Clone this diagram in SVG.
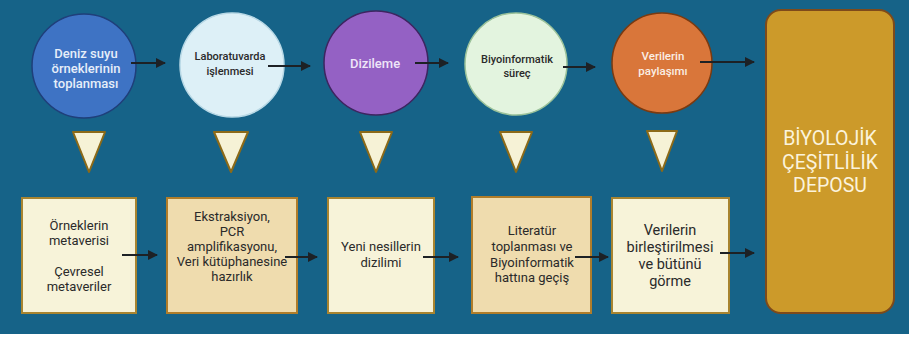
<svg xmlns="http://www.w3.org/2000/svg" width="909" height="339" viewBox="0 0 909 339">
<defs>
<marker id="ah" viewBox="0 0 10 10" refX="9" refY="5" markerWidth="5" markerHeight="5" orient="auto" markerUnits="strokeWidth">
<path d="M0,0 L10,5 L0,10 z" fill="#1d2125"/>
</marker>
<style>
text{font-family:Roboto,"Liberation Sans",sans-serif;text-anchor:middle}
.conn line{stroke:#1d2125;stroke-width:2;marker-end:url(#ah)}
.tri{fill:#f6f2d6;stroke:#8c6a18;stroke-width:2;stroke-linejoin:round}
.cream{fill:#f7f3d9;stroke:#a88430;stroke-width:2}
.tan{fill:#efdcae;stroke:#b07d2a;stroke-width:2}
.bt{font-size:13px;fill:#2a2a2a}
.bl{font-size:14.5px;fill:#2a2a2a}
.ct{font-size:13px;font-weight:500}
.cs{font-size:11px;font-weight:500;fill:#2a2a2a}
</style>
</defs>
<rect x="0" y="0" width="909" height="339" fill="#ffffff"/>
<rect x="0" y="0" width="909" height="334" fill="#166388"/>

<g id="c1">
<circle cx="84" cy="66" r="52" fill="#3e73c4" stroke="#1f3f7a" stroke-width="1.5"/>
<text class="ct" fill="#e6eef9"><tspan x="86" y="58">Deniz suyu</tspan><tspan x="86" y="73">örneklerinin</tspan><tspan x="86" y="88">toplanması</tspan></text>
</g>
<g id="c2">
<circle cx="232" cy="65" r="52" fill="#ddf0f7" stroke="#b9d9e6" stroke-width="1.5"/>
<text class="cs"><tspan x="230" y="60">Laboratuvarda</tspan><tspan x="230" y="75">işlenmesi</tspan></text>
</g>
<g id="c3">
<circle cx="376" cy="63" r="52" fill="#9461c4" stroke="#3d2560" stroke-width="1.5"/>
<text class="ct" fill="#efe6f8" x="375" y="68">Dizileme</text>
</g>
<g id="c4">
<circle cx="516" cy="64" r="51" fill="#e3f4df" stroke="#9bc29a" stroke-width="1.5"/>
<text class="cs"><tspan x="517" y="63">Biyoinformatik</tspan><tspan x="517" y="77">süreç</tspan></text>
</g>
<g id="c5">
<circle cx="662" cy="63" r="50" fill="#d9763a" stroke="#7a3a10" stroke-width="1.5"/>
<text font-size="11.5" font-weight="500" fill="#fbeee4"><tspan x="663" y="60">Verilerin</tspan><tspan x="663" y="75">paylaşımı</tspan></text>
</g>

<g id="depo">
<rect x="766" y="10" width="128" height="303" rx="15" fill="#cc9a2a" stroke="#7e4a1a" stroke-width="2"/>
<text font-size="19.5" fill="#fbf3dc"><tspan x="830" y="145">BİYOLOJİK</tspan><tspan x="830" y="169">ÇEŞİTLİLİK</tspan><tspan x="830" y="192">DEPOSU</tspan></text>
</g>

<g id="t1"><polygon class="tri" points="73,132 105,132 89,172"/></g>
<g id="t2"><polygon class="tri" points="214,132 248,132 231,172"/></g>
<g id="t3"><polygon class="tri" points="360,132 392,132 376,172"/></g>
<g id="t4"><polygon class="tri" points="500,132 532,132 516,172"/></g>
<g id="t5"><polygon class="tri" points="647,131 677,131 662,171"/></g>

<g id="b1">
<rect class="cream" x="22" y="198" width="114" height="115"/>
<text class="bt"><tspan x="79" y="230">Örneklerin</tspan><tspan x="79" y="245">metaverisi</tspan><tspan x="79" y="276">Çevresel</tspan><tspan x="79" y="291">metaveriler</tspan></text>
</g>
<g id="b2">
<rect class="tan" x="167" y="198" width="130" height="115"/>
<text class="bt"><tspan x="232" y="221">Ekstraksiyon,</tspan><tspan x="232" y="236">PCR</tspan><tspan x="232" y="251">amplifikasyonu,</tspan><tspan x="232" y="266">Veri kütüphanesine</tspan><tspan x="232" y="281">hazırlık</tspan></text>
</g>
<g id="b3">
<rect class="cream" x="328" y="198" width="106" height="115"/>
<text class="bt"><tspan x="381" y="251">Yeni nesillerin</tspan><tspan x="381" y="267">dizilimi</tspan></text>
</g>
<g id="b4">
<rect class="tan" x="472" y="197" width="119" height="116"/>
<text class="bt"><tspan x="532" y="235">Literatür</tspan><tspan x="532" y="251">toplanması ve</tspan><tspan x="532" y="267">Biyoinformatik</tspan><tspan x="532" y="282">hattına geçiş</tspan></text>
</g>
<g id="b5">
<rect class="cream" x="612" y="198" width="117" height="115"/>
<text class="bl"><tspan x="670" y="235">Verilerin</tspan><tspan x="670" y="252">birleştirilmesi</tspan><tspan x="670" y="269">ve bütünü</tspan><tspan x="670" y="286">görme</tspan></text>
</g>

<g id="connectors" class="conn">
<line x1="131" y1="63" x2="165" y2="63"/>
<line x1="268" y1="66" x2="310" y2="66"/>
<line x1="415" y1="63" x2="448" y2="63"/>
<line x1="563" y1="67" x2="595" y2="67"/>
<line x1="700" y1="62" x2="754" y2="62"/>
<line x1="122" y1="255" x2="157" y2="255"/>
<line x1="285" y1="257" x2="317" y2="257"/>
<line x1="423" y1="257" x2="458" y2="257"/>
<line x1="575" y1="257" x2="608" y2="257"/>
<line x1="720" y1="253" x2="754" y2="253"/>
</g>
</svg>
